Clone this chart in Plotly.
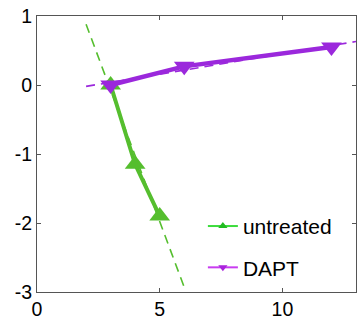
import plotly.graph_objects as go

# data
untreated_x = [3, 4, 5]
untreated_y = [0, -1.15, -1.9]
dapt_x = [3, 6, 12]
dapt_y = [0, 0.27, 0.55]
# fitted (dashed) lines
untreated_fit_x = [2, 6]
untreated_fit_y = [0.88, -2.93]
dapt_fit_x = [2, 13]
dapt_fit_y = [-0.02, 0.63]
x_ticks = [0, 5, 10]
y_ticks = [1, 0, -1, -2, -3]
y_ticktext = ["1", "0", "-1", "-2", "-3"]

GREEN = "#55be2e"
PURPLE = "#9b28dc"
GREEN_LEG = "#3cdc3c"
PURPLE_LEG = "#c83cf0"

fig = go.Figure()
fig.add_trace(go.Scatter(x=untreated_fit_x, y=untreated_fit_y, mode="lines",
                         line=dict(color=GREEN, width=1.6, dash="9px,6px"), showlegend=False))
fig.add_trace(go.Scatter(x=dapt_fit_x, y=dapt_fit_y, mode="lines",
                         line=dict(color=PURPLE, width=1.6, dash="9px,6px"), showlegend=False))
fig.add_trace(go.Scatter(x=untreated_x, y=untreated_y, mode="lines+markers",
                         line=dict(color=GREEN, width=4),
                         marker=dict(symbol="triangle-up", size=18, color=GREEN),
                         showlegend=False))
fig.add_trace(go.Scatter(x=dapt_x, y=dapt_y, mode="lines+markers",
                         line=dict(color=PURPLE, width=4.5),
                         marker=dict(symbol="triangle-down", size=18, color=PURPLE),
                         showlegend=False))
# legend entries
fig.add_trace(go.Scatter(x=[None], y=[None], mode="lines+markers", name="untreated",
                         line=dict(color=GREEN_LEG, width=2),
                         marker=dict(symbol="triangle-up", size=8, color="#22bb22"),
                         legendgroup="a"))
fig.add_trace(go.Scatter(x=[None], y=[None], mode="lines+markers", name="DAPT",
                         line=dict(color=PURPLE_LEG, width=2),
                         marker=dict(symbol="triangle-down", size=8, color="#aa22dd"),
                         legendgroup="b"))

axis_common = dict(showgrid=False, zeroline=False, showline=True, linecolor="#555555",
                   linewidth=1, mirror="ticks", ticks="inside", ticklen=4,
                   tickcolor="#555555", automargin=False,
                   tickfont=dict(size=19.5, color="black", family="Liberation Sans"))
fig.update_xaxes(range=[0, 13], tickvals=x_ticks, **axis_common)
fig.update_yaxes(range=[-3, 1], tickvals=y_ticks, ticktext=y_ticktext, **axis_common)

fig.update_layout(
    width=358, height=323,
    margin=dict(l=37, r=2, t=16, b=31),
    plot_bgcolor="white", paper_bgcolor="white",
    font=dict(family="Liberation Sans", color="black"),
    legend=dict(x=0.52, y=0.312, xanchor="left", yanchor="top",
                bgcolor="rgba(0,0,0,0)", font=dict(size=21),
                tracegroupgap=11),
)
fig.write_html("out.html", config={"displayModeBar": False},
               post_script="document.body.style.margin='0';document.body.style.overflow='hidden';")
